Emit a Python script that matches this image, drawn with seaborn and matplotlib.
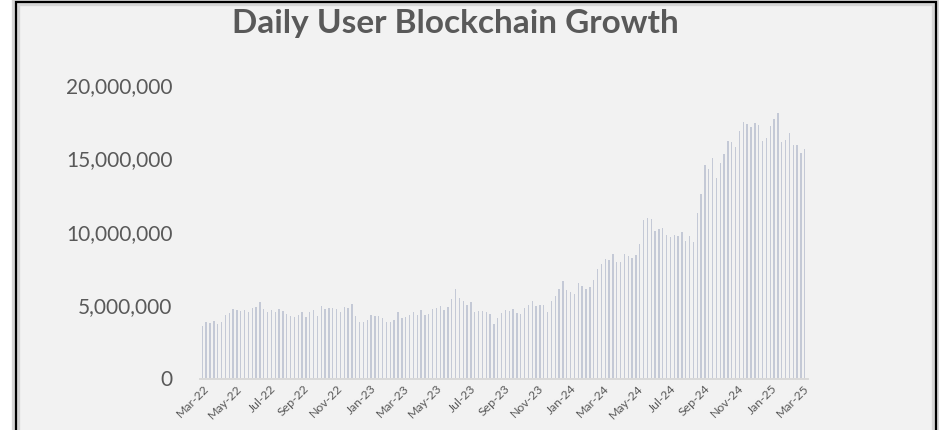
import pandas as pd
import matplotlib.pyplot as plt
import matplotlib.dates as mdates
from matplotlib.ticker import StrMethodFormatter
from matplotlib.patches import Rectangle
import seaborn as sns

sns.set_theme(style="white")
plt.rcParams['font.family'] = ['Lato', 'DejaVu Sans']

# weekly daily-active users, millions
start_week = "2022-02-28"
users_m = [
	3.60, 3.84, 3.77, 3.92, 3.70, 3.86, 4.33, 4.49, 4.77, 4.68,
	4.61, 4.65, 4.56, 4.81, 4.86, 5.22, 4.77, 4.52, 4.65, 4.56,
	4.74, 4.61, 4.40, 4.29, 4.18, 4.33, 4.54, 4.22, 4.52, 4.70,
	4.27, 4.95, 4.74, 4.79, 4.81, 4.74, 4.56, 4.88, 4.81, 5.06,
	4.27, 3.88, 3.86, 3.97, 4.33, 4.27, 4.27, 4.13, 3.84, 3.86,
	3.99, 4.52, 4.13, 4.22, 4.31, 4.54, 4.31, 4.68, 4.33, 4.42,
	4.72, 4.83, 4.93, 4.70, 4.88, 5.43, 6.09, 5.49, 5.29, 5.02,
	5.24, 4.56, 4.61, 4.61, 4.54, 4.38, 3.74, 4.13, 4.45, 4.68,
	4.63, 4.72, 4.47, 4.42, 4.79, 5.02, 5.29, 4.97, 5.02, 5.02,
	4.56, 5.29, 5.63, 6.13, 6.61, 6.02, 5.90, 5.79, 6.50, 6.27,
	6.11, 6.25, 6.72, 7.47, 7.77, 8.11, 8.09, 8.50, 7.93, 7.95,
	8.50, 8.36, 8.20, 8.43, 9.16, 10.80, 10.93, 10.84, 10.05, 10.18,
	10.25, 9.80, 9.66, 9.77, 9.73, 9.95, 9.34, 9.68, 9.27, 11.28,
	12.55, 14.53, 14.30, 15.03, 13.69, 14.71, 15.32, 16.21, 16.12, 15.80,
	16.89, 17.51, 17.32, 17.15, 17.42, 17.26, 16.21, 16.39, 17.24, 17.71,
	18.08, 16.10, 16.23, 16.76, 15.92, 15.94, 15.35, 15.64,
]
y_ticks = [0, 5_000_000, 10_000_000, 15_000_000, 20_000_000]
title = "Daily User Blockchain Growth"

weeks = pd.date_range(start_week, periods=len(users_m), freq="7D")
df = pd.DataFrame({"week": mdates.date2num(weeks), "users": [v * 1_000_000 for v in users_m]})

text_color = "#595959"
bar_color = "#C4C9D6"

fig = plt.figure(figsize=(9.39, 4.3), dpi=100)
fig.patch.set_facecolor("white")
# chart frame with soft inner shadow (kept behind the axes)
fig.patches.append(Rectangle((16 / 939, -0.1), 920 / 939, 1.1 - 2 / 430, transform=fig.transFigure,
	facecolor="#F2F2F2", edgecolor="#D6D6D6", linewidth=6, zorder=-2))
fig.patches.append(Rectangle((16 / 939, -0.1), 920 / 939, 1.1 - 2 / 430, transform=fig.transFigure,
	facecolor="none", edgecolor="black", linewidth=1.6, zorder=-1))

# axes placed to match the plot area (pixels -> figure fraction)
ax = fig.add_axes([200.4 / 939, 51.5 / 430, (808 - 200.4) / 939, (378.5 - 85) / 430])
ax.set_facecolor("none")

sns.barplot(df, x="week", y="users", native_scale=True, width=0.35, color=bar_color,
	saturation=1, errorbar=None, linewidth=0, ax=ax)

ax.set_xlim(df["week"].iloc[0] - 3.5, df["week"].iloc[-1] + 6)
ax.set_ylim(0, 20_000_000)
ax.set_yticks(y_ticks)
ax.yaxis.set_major_formatter(StrMethodFormatter("{x:,.0f}"))
ax.xaxis.set_major_locator(mdates.MonthLocator(bymonth=[1, 3, 5, 7, 9, 11]))
ax.xaxis.set_major_formatter(mdates.DateFormatter("%b-%y"))

for side in ["left", "right", "top"]:
	ax.spines[side].set_visible(False)
ax.spines["bottom"].set_color("#D9D9D9")
ax.spines["bottom"].set_linewidth(1.4)

ax.tick_params(axis="y", length=0, pad=20, labelsize=15, labelcolor=text_color)
ax.tick_params(axis="x", length=0, pad=3, labelsize=8.8, labelcolor=text_color)
plt.setp(ax.get_xticklabels(), rotation=45, ha="right", rotation_mode="anchor")
ax.set_xlabel("")
ax.set_ylabel("")

fig.text(455 / 939, 1 - 23 / 430, title, ha="center", va="center", fontsize=24,
	fontweight="bold", color=text_color)

plt.savefig("out.png", dpi=100)
plt.close()
